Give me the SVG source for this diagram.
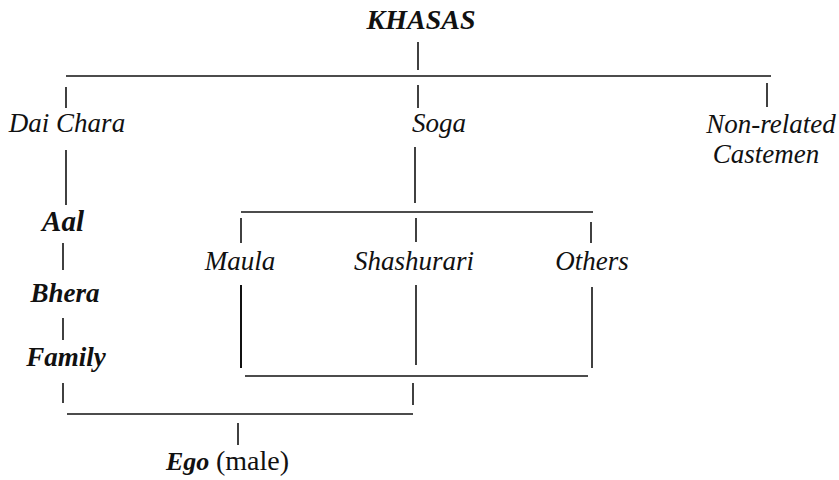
<svg xmlns="http://www.w3.org/2000/svg" width="839" height="480" viewBox="0 0 839 480">
<style>
.l{font-style:italic;font-size:27px;fill:#111}
.b{font-weight:bold}
.m{text-anchor:middle}
.r{font-style:normal;font-size:28px;fill:#111}
.c line{stroke:#111;stroke-width:1.6;stroke-linecap:butt}
</style>
<rect width="839" height="480" fill="#fff"/>
<g class="c" id="connectors">
<line x1="418" y1="42" x2="418" y2="70"/>
<line x1="66" y1="76" x2="771" y2="76"/>
<line x1="66" y1="87" x2="66" y2="108"/>
<line x1="418" y1="85" x2="418" y2="108"/>
<line x1="767" y1="83" x2="767" y2="107"/>
<line x1="66" y1="150" x2="66" y2="205"/>
<line x1="415" y1="147" x2="415" y2="203"/>
<line x1="241" y1="212" x2="593" y2="212"/>
<line x1="241" y1="218" x2="241" y2="243"/>
<line x1="416" y1="218" x2="416" y2="242"/>
<line x1="591" y1="222" x2="591" y2="243"/>
<line x1="63" y1="243" x2="63" y2="270"/>
<line x1="63" y1="318" x2="63" y2="340"/>
<line x1="241" y1="285" x2="241" y2="368" style="stroke-width:2"/>
<line x1="416" y1="285" x2="416" y2="365"/>
<line x1="592" y1="287" x2="592" y2="368"/>
<line x1="245" y1="376" x2="588" y2="376"/>
<line x1="63" y1="383" x2="63" y2="403"/>
<line x1="413" y1="383" x2="413" y2="405"/>
<line x1="67" y1="414" x2="413" y2="414"/>
<line x1="238" y1="423" x2="238" y2="445"/>
</g>
<g font-family="Liberation Serif">
<g id="khasas"><text class="l b m" x="421" y="29" style="font-size:28px">KHASAS</text></g>
<g id="dai-chara"><text class="l m" x="67" y="132">Dai Chara</text></g>
<g id="soga"><text class="l" x="412" y="132">Soga</text></g>
<g id="non-related"><text class="l m" x="771" y="133">Non-related</text><text class="l m" x="766" y="163">Castemen</text></g>
<g id="aal"><text class="l b m" x="63" y="231" style="font-size:29px">Aal</text></g>
<g id="maula"><text class="l m" x="240" y="270">Maula</text></g>
<g id="shashurari"><text class="l m" x="414" y="270">Shashurari</text></g>
<g id="others"><text class="l m" x="592" y="270">Others</text></g>
<g id="bhera"><text class="l b m" x="65" y="302">Bhera</text></g>
<g id="family"><text class="l b m" x="66" y="366">Family</text></g>
<g id="ego"><text x="166" y="470"><tspan class="l b" style="font-size:26px">Ego</tspan><tspan class="r" x="216">(male)</tspan></text></g>
</g>
</svg>
